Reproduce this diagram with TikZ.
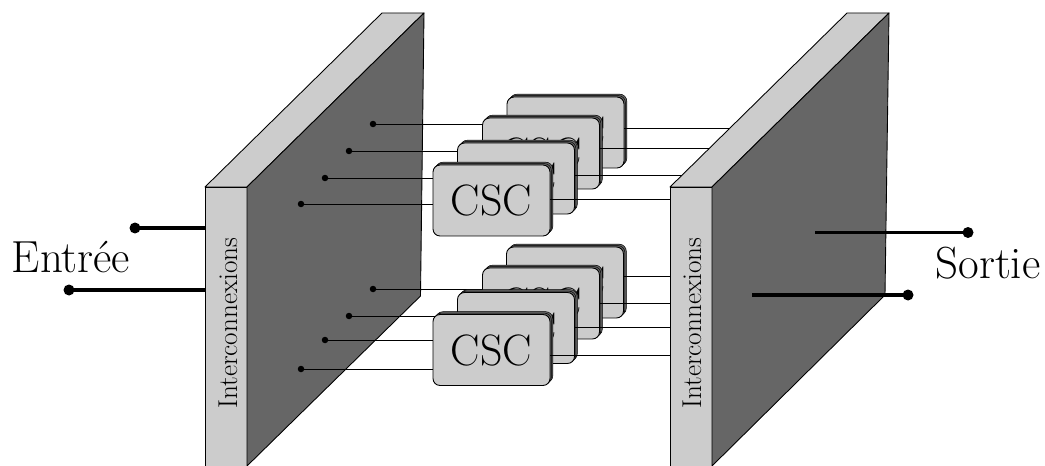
\documentclass[tikz,border=0pt]{standalone}
\usetikzlibrary{shadows}
\definecolor{facegray}{gray}{0.8}
\definecolor{sidegray}{gray}{0.4}
\tikzset{
  face/.style={draw=black, fill=facegray, line width=0.5pt, line join=round},
  side/.style={draw=black, fill=sidegray, line width=0.5pt, line join=round},
  csc/.style={draw=black, fill=facegray, line width=0.5pt, rounded corners=0.14cm,
    minimum width=2.34cm, minimum height=1.42cm, inner sep=0pt,
    font=\fontsize{25}{25}\selectfont,
    double copy shadow={shadow xshift=0.028cm, shadow yshift=0.028cm, draw=black, line width=0.3pt, fill=sidegray}},
  wire/.style={draw=black, line width=0.5pt},
  bus/.style={draw=black, line width=2.1pt, shorten <=-1pt},
  dot/.style={circle, fill=black, inner sep=0pt, outer sep=0pt, minimum size=0.13cm},
  bigdot/.style={circle, fill=black, inner sep=0pt, outer sep=0pt, minimum size=0.22cm},
  title/.style={font=\fontsize{25.6}{25.6}\selectfont},
  panel/.style={rotate=90, font=\fontsize{15.5}{15.5}\selectfont}
}
\begin{document}
\begin{tikzpicture}[x=0.02cm, y=-0.02cm]
    \useasboundingbox (0, 0) rectangle (1045, 466);
    % left panel
    \draw[face] (205, 187) -- (382, 13) -- (424, 13) -- (247, 187) -- cycle;
    \draw[face] (205, 187) -- (247, 187) -- (247, 466) -- (205, 466) -- cycle;
    \draw[side] (247, 187) -- (424, 13) -- (420.5, 296) -- (247, 466) -- cycle;
    \node[panel] (leftname) at (228, 323) {Interconnexions};
    % right panel
    \draw[face] (670, 187) -- (847, 13) -- (889, 13) -- (712, 187) -- cycle;
    \draw[face] (670, 187) -- (712, 187) -- (712, 466) -- (670, 466) -- cycle;
    \draw[side] (712, 187) -- (889, 13) -- (885, 295) -- (712, 466) -- cycle;
    \node[panel] (rightname) at (692, 323) {Interconnexions};
    % inner points
    \node[dot] (pa) at (373, 124) {};
    \node[dot] (pb) at (349, 151) {};
    \node[dot] (pc) at (325, 178) {};
    \node[dot] (pd) at (301, 204) {};
    \node[dot] (qa) at (373, 289) {};
    \node[dot] (qb) at (349, 316) {};
    \node[dot] (qc) at (325, 340) {};
    \node[dot] (qd) at (301, 369) {};
    % upper stack, back to front
    \coordinate (ua) at (565.5, 132.5);
    \coordinate (ud) at (491.5, 200.5);
    \coordinate (la) at (565, 282.5);
    \coordinate (ld) at (491.5, 350);
    \draw[wire] (pa) -- (pa -| ua);
    \draw[wire] (pb) -- (pb -| ud);
    \draw[wire] (pc) -- (pc -| ud);
    \draw[wire] (pd) -- (pd -| ud);
    \draw[wire] (qa) -- (qa -| la);
    \draw[wire] (qb) -- (qb -| ld);
    \draw[wire] (qc) -- (qc -| ld);
    \draw[wire] (qd) -- (qd -| ld);
    \node[csc] (ca) at (ua) {CSC};
    \node[csc] (cb) at (541, 153.5) {CSC};
    \node[csc] (cc) at (516, 178.5) {CSC};
    \node[csc] (cd) at (ud) {CSC};
    % lower stack, back to front
    \node[csc] (da) at (la) {CSC};
    \node[csc] (db) at (541, 303.5) {CSC};
    \node[csc] (dc) at (516, 328) {CSC};
    \node[csc] (dd) at (ld) {CSC};
    % ends on the right panel
    \coordinate (ra) at (730, 128);
    \coordinate (rb) at (709, 148);
    \coordinate (rc) at (682, 175);
    \coordinate (rd) at (670, 199);
    \coordinate (sa) at (670, 276);
    \coordinate (sb) at (670, 303);
    \coordinate (sc) at (670, 327);
    \coordinate (sd) at (670, 355);
    \draw[wire] (ca.east |- ra) -- (ra);
    \draw[wire] (cb.east |- rb) -- (rb);
    \draw[wire] (cc.east |- rc) -- (rc);
    \draw[wire] (cd.east |- rd) -- (rd);
    \draw[wire] (da.east |- sa) -- (sa);
    \draw[wire] (db.east |- sb) -- (sb);
    \draw[wire] (dc.east |- sc) -- (sc);
    \draw[wire] (dd.east |- sd) -- (sd);
    % input and output
    \node[bigdot] (ina) at (135, 228) {};
    \node[bigdot] (inb) at (69, 290) {};
    \node[bigdot] (outa) at (968, 232.5) {};
    \node[bigdot] (outb) at (908, 295) {};
    \coordinate (ea) at (205, 228);
    \coordinate (eb) at (205, 290);
    \coordinate (fa) at (815, 232.5);
    \coordinate (fb) at (752, 295);
    \draw[bus] (ina) -- (ea);
    \draw[bus] (inb) -- (eb);
    \draw[bus, shorten <=0pt, shorten >=-1pt] (fa) -- (outa);
    \draw[bus, shorten <=0pt, shorten >=-1pt] (fb) -- (outb);
    \node[title] (entree) at (71, 257) {Entrée};
    \node[title] (sortie) at (988, 263) {Sortie};
\end{tikzpicture}
\end{document}
